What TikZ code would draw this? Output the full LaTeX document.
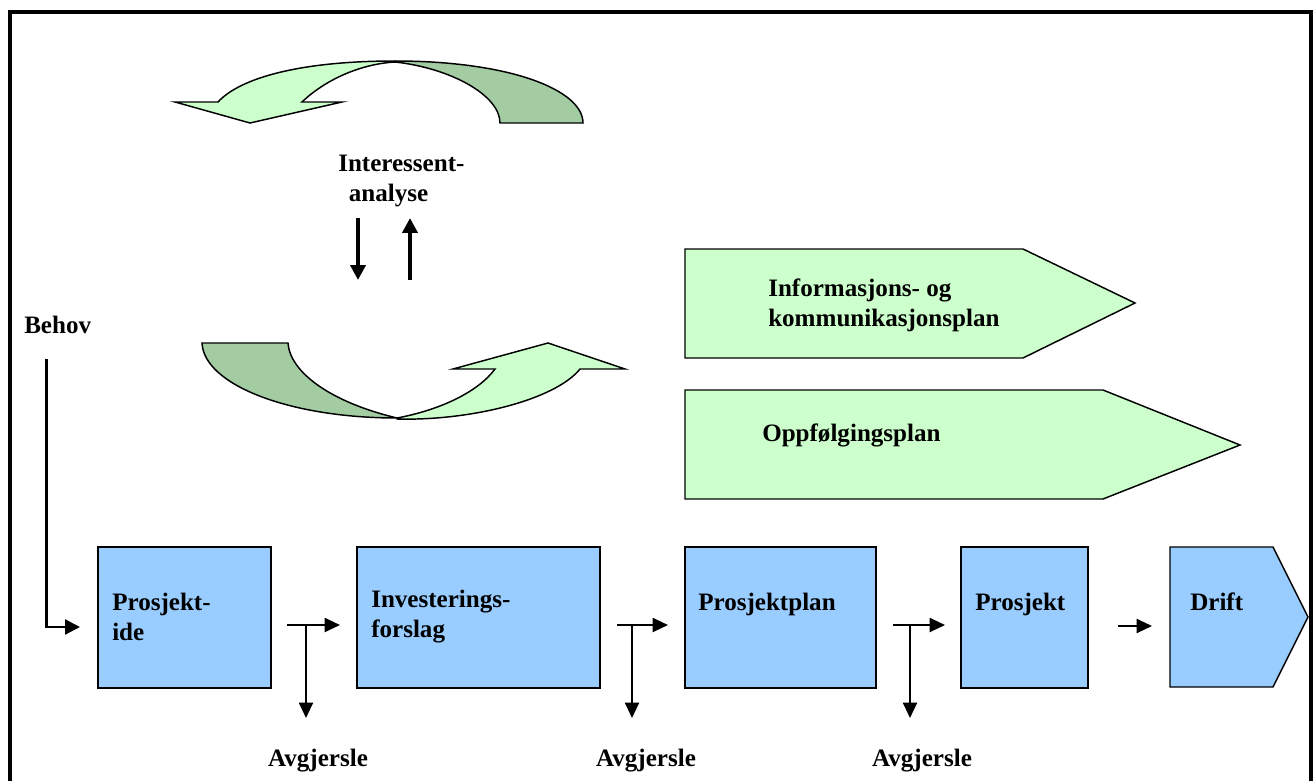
\documentclass[tikz,border=0pt]{standalone}
\usepackage{fontspec}
\setmainfont{Liberation Serif}
\usetikzlibrary{arrows.meta}
\definecolor{boxblue}{RGB}{153,204,255}
\definecolor{lightgreen}{RGB}{204,255,204}
\definecolor{darkgreen}{RGB}{163,204,163}
\begin{document}
\begin{tikzpicture}[x=0.75pt,y=-0.75pt,
  lbl/.style={font=\fontsize{18.8}{22.5}\selectfont\bfseries, inner sep=0pt, align=left},
  bluebox/.style={draw=black, line width=1.1pt, fill=boxblue},
  greenshape/.style={draw=black, line width=1.1pt, fill=lightgreen},
  darkshape/.style={draw=black, line width=1.1pt, fill=darkgreen},
  conn/.style={line width=1.5pt, -{Triangle[length=11.5pt,width=10.5pt]}},
  plainline/.style={line width=1.5pt},
  thickconn/.style={line width=3pt, -{Triangle[length=11.25pt,width=11.25pt]}}]
\clip (0,0) rectangle (1314,781);
\fill[white] (0,0) rectangle (1314,781);
% frame
\draw[line width=3pt] (9.5,12) rectangle (1310.5,800);

% top curved arrow
\draw[greenshape] (395,61) .. controls (300,61) and (240,78) .. (218,102)
  -- (175,102) -- (250,123) -- (342,102) -- (302,102)
  .. controls (325,80) and (360,64) .. (395,62) -- cycle;
\draw[darkshape] (395,61) .. controls (510,61) and (583,90) .. (583,123)
  -- (500,123) .. controls (500,95) and (450,68) .. (395,62) -- cycle;

% bottom curved arrow
\draw[darkshape] (202,343) -- (288,343) .. controls (290,372) and (330,402) .. (397,418)
  .. controls (290,418) and (204,385) .. (202,343) -- cycle;
\draw[greenshape] (397,419) .. controls (470,421) and (555,400) .. (580,369)
  -- (625,369) -- (548,343) -- (453,369) -- (495,369)
  .. controls (478,392) and (440,410) .. (397,418) -- cycle;

% interessent analyse
\node[lbl, anchor=north west] (ia) at (338,155) {Interessent-\\\hspace*{8pt}analyse};
\coordinate (dA) at (358,218);
\coordinate (dB) at (358,280);
\coordinate (uA) at (410,280);
\coordinate (uB) at (410,218);
\draw[thickconn] (dA) -- (dB);
\draw[thickconn] (uA) -- (uB);

% green pentagons
\draw[greenshape] (685,249) -- (1023,249) -- (1135,303) -- (1023,358) -- (685,358) -- cycle;
\node[lbl, anchor=north west] (info) at (768,279) {Informasjons- og\\kommunikasjonsplan};
\draw[greenshape] (685,390) -- (1103,390) -- (1240,445) -- (1103,499) -- (685,499) -- cycle;
\node[lbl, anchor=base west] (opp) at (762,441) {Oppfølgingsplan};

% Behov
\node[lbl, anchor=base west] (behov) at (24,333) {Behov};
\coordinate (bA) at (46.5,359);
\coordinate (bC) at (46.5,627);
\coordinate (bB) at (80,627);
\draw[line width=1.7pt, -{Triangle[length=11.25pt,width=11.25pt]}] (bA) -- (bC) -- (bB);

% blue boxes
\draw[bluebox] (98,547) rectangle (271,688);
\node[lbl, anchor=north west] (b1) at (112,593) {Prosjekt-\\ide};
\draw[bluebox] (357,547) rectangle (600,688);
\node[lbl, anchor=north west] (b2) at (371,590) {Investerings-\\forslag};
\draw[bluebox] (685,547) rectangle (876,688);
\node[lbl, anchor=base west] (b3) at (698,610) {Prosjektplan};
\draw[bluebox] (961,547) rectangle (1088,688);
\node[lbl, anchor=base west] (b4) at (975,610) {Prosjekt};
\draw[bluebox] (1170,547) -- (1273,547) -- (1308,617) -- (1273,687) -- (1170,687) -- cycle;
\node[lbl, anchor=base west] (b5) at (1190,610) {Drift};

% decision connectors
\coordinate (t1s) at (287,625); \coordinate (t1e) at (340,625);
\coordinate (t1j) at (306,625); \coordinate (t1d) at (306,718);
\draw[conn] (t1s) -- (t1e);
\draw[conn] (t1j) -- (t1d);
\coordinate (t2s) at (617,625); \coordinate (t2e) at (668,625);
\coordinate (t2j) at (632,625); \coordinate (t2d) at (632,718);
\draw[conn] (t2s) -- (t2e);
\draw[conn] (t2j) -- (t2d);
\coordinate (t3s) at (893,625); \coordinate (t3e) at (945,625);
\coordinate (t3j) at (910,625); \coordinate (t3d) at (910,718);
\draw[conn] (t3s) -- (t3e);
\draw[conn] (t3j) -- (t3d);
\coordinate (t4s) at (1118,626); \coordinate (t4e) at (1152,626);
\draw[conn] (t4s) -- (t4e);

\node[lbl, anchor=base] (a1) at (318,766) {Avgjersle};
\node[lbl, anchor=base] (a2) at (646,766) {Avgjersle};
\node[lbl, anchor=base] (a3) at (922,766) {Avgjersle};
\end{tikzpicture}
\end{document}
